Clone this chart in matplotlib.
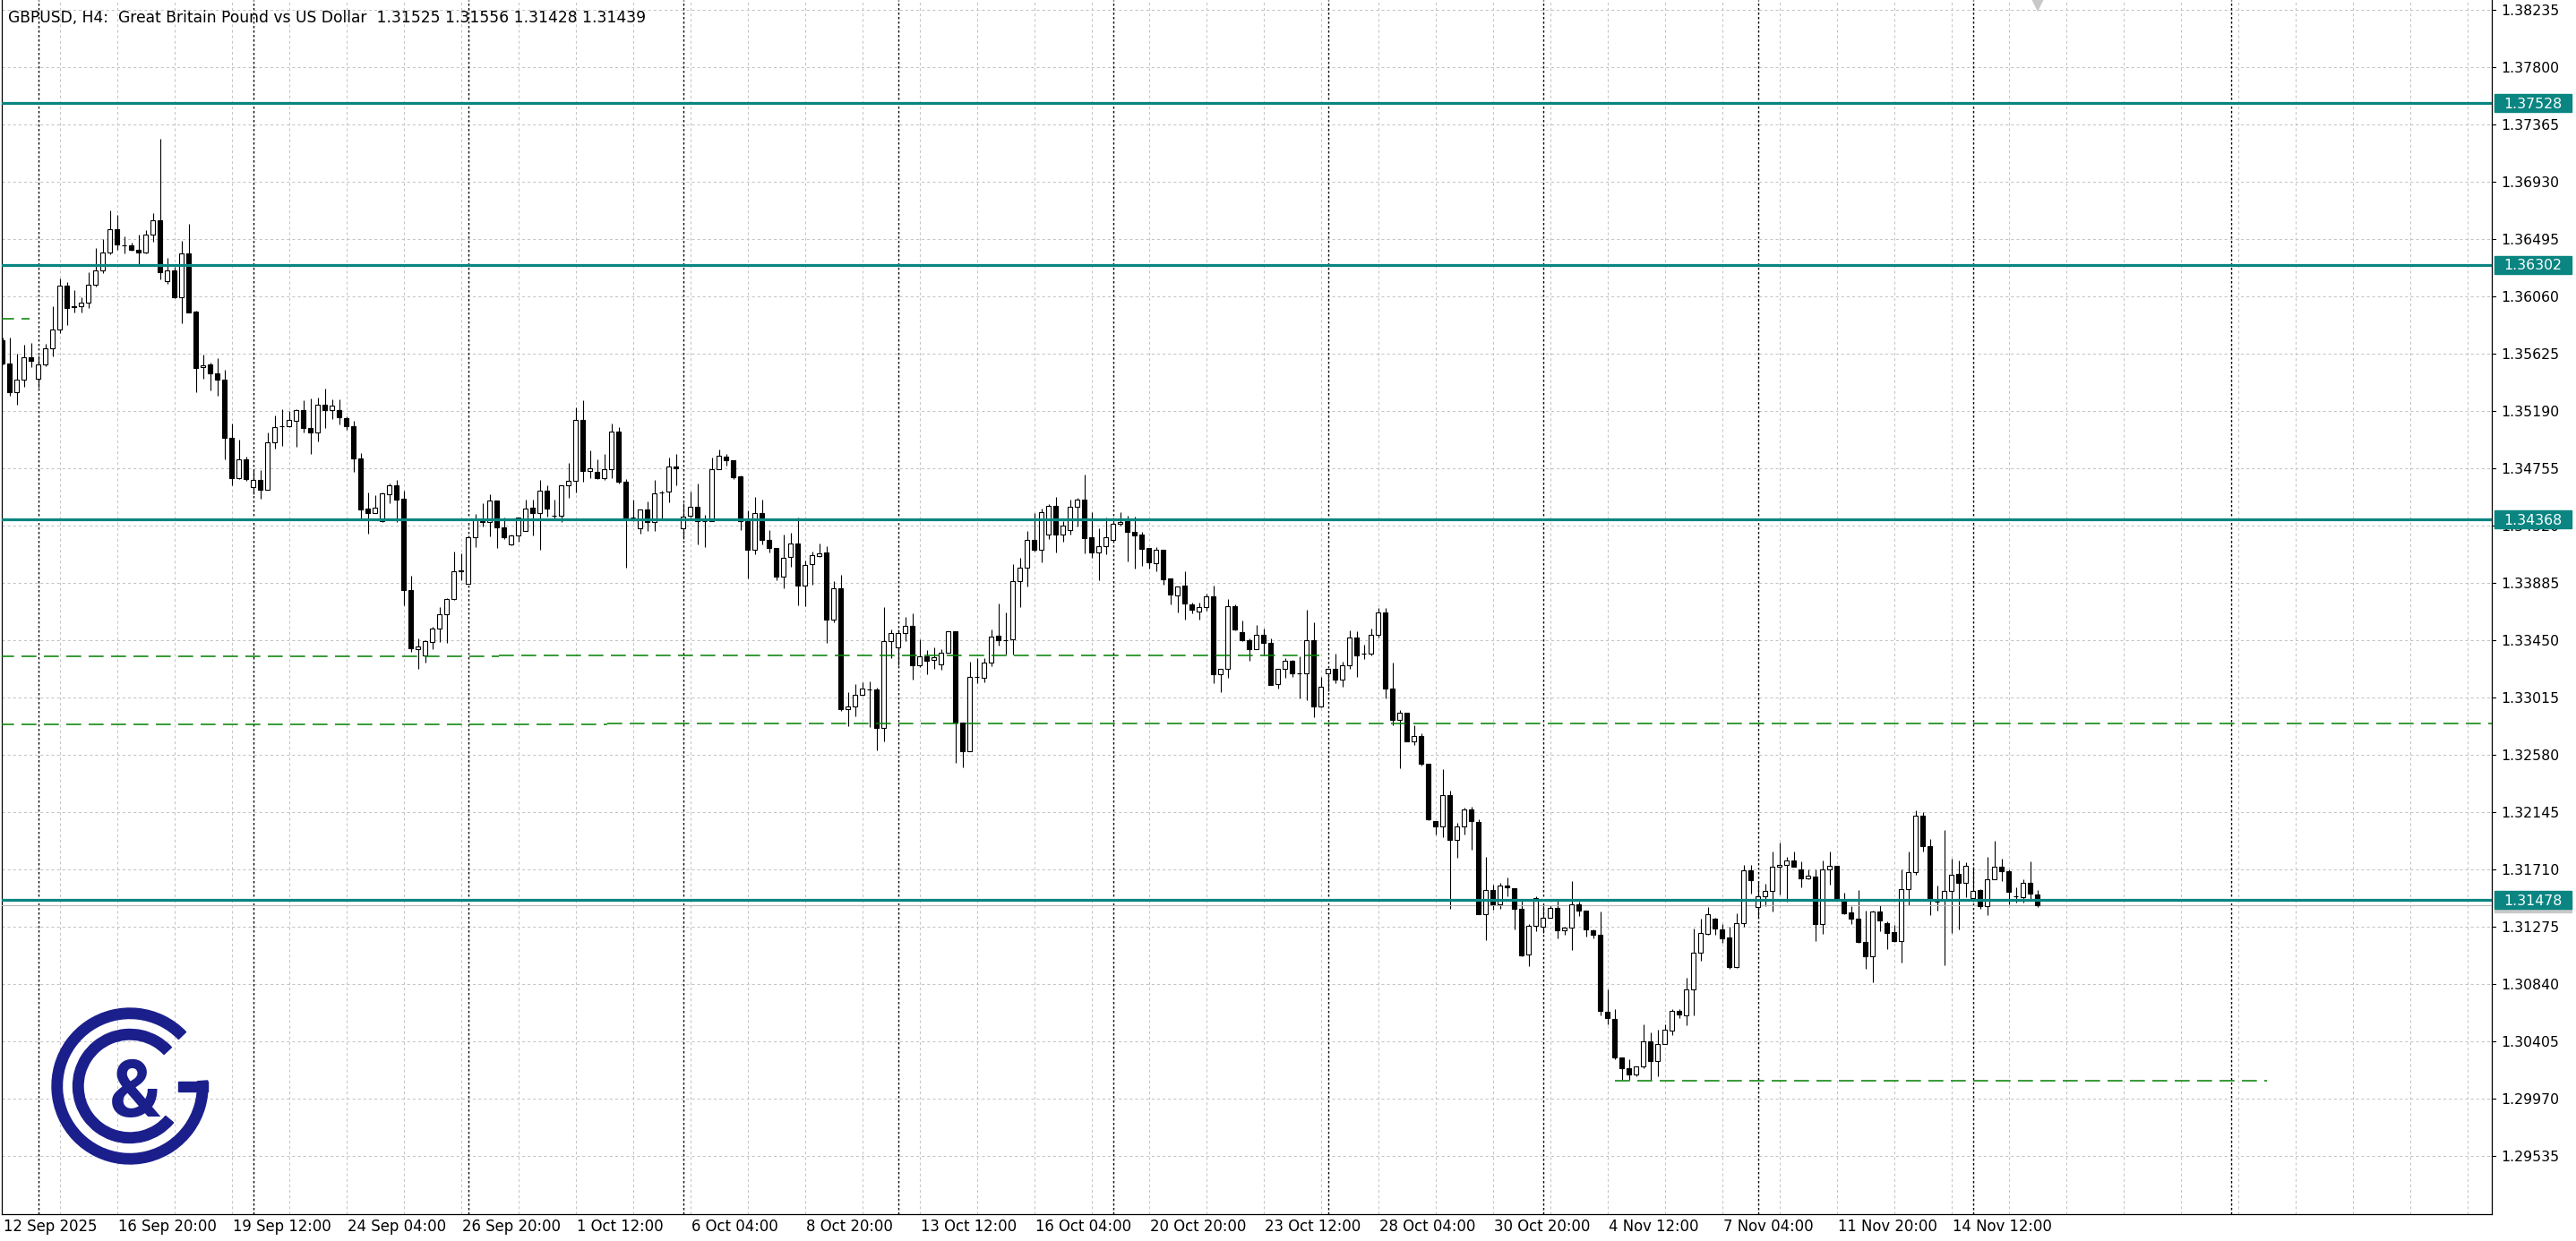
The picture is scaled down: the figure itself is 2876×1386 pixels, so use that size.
#!/usr/bin/env python3
"""GBPUSD H4 candlestick chart drawn in the MetaTrader terminal style."""

import matplotlib
matplotlib.use("Agg")
import matplotlib.pyplot as plt
import matplotlib.transforms as mtransforms
from matplotlib.patches import Rectangle, Wedge

plt.rcParams["lines.scale_dashes"] = False
plt.rcParams["font.family"] = ["DejaVu Sans"]

TITLE = "GBPUSD, H4:  Great Britain Pound vs US Dollar  1.31525 1.31556 1.31428 1.31439"

# H4 bars, oldest first (12 Sep 2025 04:00 ... 18 Nov 2025 12:00)
opens = [
    1.35729, 1.35555, 1.35333, 1.35428, 1.35598, 1.35439, 1.35548, 1.35666, 1.35813, 1.36142,
    1.35986, 1.35986, 1.36013, 1.36149, 1.36257, 1.36398, 1.36575, 1.36448, 1.36448, 1.36414,
    1.36398, 1.36534, 1.36643, 1.36176, 1.36262, 1.36058, 1.36391, 1.35945, 1.35523, 1.35543,
    1.35480, 1.35433, 1.34986, 1.34680, 1.34823, 1.34612, 1.34671, 1.34596, 1.34952, 1.35077,
    1.35079, 1.35118, 1.35197, 1.35065, 1.35027, 1.35242, 1.35202, 1.35197, 1.35140, 1.35079,
    1.34829, 1.34449, 1.34419, 1.34358, 1.34558, 1.34625, 1.34523, 1.33830, 1.33384, 1.33334,
    1.33440, 1.33538, 1.33649, 1.33762, 1.33984, 1.33878, 1.34233, 1.34358, 1.34347, 1.34510,
    1.34306, 1.34181, 1.34245, 1.34283, 1.34456, 1.34415, 1.34585, 1.34399, 1.34399, 1.34625,
    1.34664, 1.35122, 1.34736, 1.34727, 1.34682, 1.34748, 1.35038, 1.34653, 1.34385, 1.34301,
    1.34442, 1.34347, 1.34573, 1.34578, 1.34773, 1.34301, 1.34399, 1.34465, 1.34354, 1.34354,
    1.34748, 1.34845, 1.34816, 1.34693, 1.34358, 1.34136, 1.34419, 1.34211, 1.34150, 1.33932,
    1.34082, 1.34184, 1.33864, 1.34030, 1.34093, 1.34120, 1.33610, 1.33844, 1.32930, 1.32946,
    1.33039, 1.33077, 1.33077, 1.32783, 1.33445, 1.33399, 1.33504, 1.33558, 1.33259, 1.33327,
    1.33300, 1.33266, 1.33354, 1.33520, 1.32828, 1.32606, 1.33173, 1.33168, 1.33282, 1.33486,
    1.33452, 1.33456, 1.33898, 1.34000, 1.34211, 1.34137, 1.34257, 1.34472, 1.34257, 1.34291,
    1.34465, 1.34517, 1.34234, 1.34116, 1.34166, 1.34211, 1.34334, 1.34370, 1.34273, 1.34252,
    1.34150, 1.34035, 1.34137, 1.33922, 1.33792, 1.33865, 1.33724, 1.33668, 1.33706, 1.33786,
    1.33196, 1.33237, 1.33709, 1.33514, 1.33452, 1.33384, 1.33491, 1.33430, 1.33117, 1.33237,
    1.33294, 1.33203, 1.33199, 1.33452, 1.32947, 1.33199, 1.33233, 1.33151, 1.33260, 1.33471,
    1.33350, 1.33350, 1.33491, 1.33666, 1.33082, 1.32849, 1.32899, 1.32685, 1.32722, 1.32511,
    1.32082, 1.32037, 1.32277, 1.31939, 1.32037, 1.32167, 1.32074, 1.31375, 1.31553, 1.31449,
    1.31589, 1.31567, 1.31412, 1.31065, 1.31285, 1.31279, 1.31347, 1.31418, 1.31252, 1.31271,
    1.31446, 1.31398, 1.31252, 1.31215, 1.30632, 1.30576, 1.30285, 1.30200, 1.30158, 1.30214,
    1.30406, 1.30257, 1.30389, 1.30491, 1.30637, 1.30604, 1.30801, 1.31082, 1.31226, 1.31341,
    1.31255, 1.31194, 1.30974, 1.31307, 1.31704, 1.31425, 1.31505, 1.31552, 1.31731, 1.31749,
    1.31783, 1.31715, 1.31647, 1.31658, 1.31296, 1.31710, 1.31738, 1.31472, 1.31386, 1.31337,
    1.31160, 1.31051, 1.31391, 1.31307, 1.31239, 1.31171, 1.31563, 1.31692, 1.32118, 1.31892,
    1.31470, 1.31482, 1.31550, 1.31676, 1.31608, 1.31493, 1.31556, 1.31432, 1.31640, 1.31731,
    1.31697, 1.31511, 1.31504, 1.31608, 1.31525,
]
highs = [
    1.35748, 1.35748, 1.35625, 1.35696, 1.35707, 1.35612, 1.35700, 1.35990, 1.36199, 1.36171,
    1.36110, 1.36054, 1.36246, 1.36432, 1.36500, 1.36715, 1.36681, 1.36516, 1.36473, 1.36532,
    1.36563, 1.36693, 1.37259, 1.36353, 1.36285, 1.36482, 1.36613, 1.35952, 1.35623, 1.35559,
    1.35594, 1.35507, 1.35095, 1.34977, 1.34846, 1.34744, 1.34744, 1.35027, 1.35158, 1.35204,
    1.35190, 1.35208, 1.35272, 1.35288, 1.35294, 1.35360, 1.35281, 1.35281, 1.35152, 1.35118,
    1.34872, 1.34573, 1.34551, 1.34573, 1.34641, 1.34668, 1.34585, 1.33939, 1.33468, 1.33452,
    1.33554, 1.33701, 1.33769, 1.34125, 1.34109, 1.34245, 1.34408, 1.34494, 1.34562, 1.34514,
    1.34381, 1.34252, 1.34381, 1.34517, 1.34517, 1.34671, 1.34630, 1.34517, 1.34630, 1.34800,
    1.35219, 1.35271, 1.34891, 1.34827, 1.34868, 1.35094, 1.35072, 1.34675, 1.34517, 1.34442,
    1.34505, 1.34671, 1.34585, 1.34841, 1.34863, 1.34494, 1.34580, 1.34641, 1.34403, 1.34838,
    1.34900, 1.34868, 1.34816, 1.34705, 1.34437, 1.34539, 1.34517, 1.34290, 1.34154, 1.34256,
    1.34267, 1.34381, 1.34057, 1.34125, 1.34184, 1.34165, 1.33900, 1.33946, 1.33055, 1.33116,
    1.33134, 1.33139, 1.33089, 1.33701, 1.33536, 1.33536, 1.33626, 1.33656, 1.33456, 1.33377,
    1.33395, 1.33384, 1.33520, 1.33520, 1.32828, 1.33286, 1.33315, 1.33315, 1.33536, 1.33730,
    1.33662, 1.34029, 1.34075, 1.34279, 1.34415, 1.34450, 1.34488, 1.34540, 1.34359, 1.34517,
    1.34533, 1.34710, 1.34427, 1.34302, 1.34381, 1.34381, 1.34427, 1.34397, 1.34388, 1.34275,
    1.34155, 1.34159, 1.34137, 1.33922, 1.33860, 1.33978, 1.33740, 1.33740, 1.33804, 1.33865,
    1.33233, 1.33765, 1.33724, 1.33600, 1.33464, 1.33566, 1.33543, 1.33468, 1.33237, 1.33316,
    1.33305, 1.33332, 1.33684, 1.33588, 1.33174, 1.33237, 1.33351, 1.33287, 1.33527, 1.33520,
    1.33418, 1.33543, 1.33694, 1.33694, 1.33285, 1.32919, 1.32899, 1.32806, 1.32744, 1.32511,
    1.32082, 1.32474, 1.32311, 1.32068, 1.32181, 1.32187, 1.32094, 1.31806, 1.31595, 1.31609,
    1.31651, 1.31567, 1.31474, 1.31299, 1.31510, 1.31440, 1.31440, 1.31474, 1.31280, 1.31623,
    1.31468, 1.31398, 1.31257, 1.31392, 1.30801, 1.30652, 1.30285, 1.30271, 1.30220, 1.30539,
    1.30474, 1.30496, 1.30539, 1.30652, 1.30652, 1.30891, 1.31262, 1.31341, 1.31426, 1.31347,
    1.31300, 1.31278, 1.31380, 1.31749, 1.31749, 1.31617, 1.31606, 1.31846, 1.31919, 1.31806,
    1.31846, 1.31772, 1.31715, 1.31715, 1.31783, 1.31846, 1.31742, 1.31534, 1.31436, 1.31556,
    1.31398, 1.31398, 1.31438, 1.31318, 1.31291, 1.31710, 1.31846, 1.32161, 1.32145, 1.31942,
    1.31590, 1.32010, 1.31794, 1.31783, 1.31765, 1.31733, 1.31563, 1.31806, 1.31930, 1.31794,
    1.31715, 1.31574, 1.31640, 1.31772, 1.31556,
]
lows = [
    1.35548, 1.35310, 1.35242, 1.35378, 1.35526, 1.35372, 1.35530, 1.35609, 1.35786, 1.35847,
    1.35940, 1.35940, 1.35977, 1.36137, 1.36239, 1.36382, 1.36414, 1.36391, 1.36409, 1.36307,
    1.36387, 1.36477, 1.36194, 1.36160, 1.36051, 1.35861, 1.35943, 1.35337, 1.35439, 1.35351,
    1.35310, 1.34828, 1.34630, 1.34676, 1.34660, 1.34562, 1.34528, 1.34592, 1.34907, 1.34925,
    1.35072, 1.34920, 1.35031, 1.34868, 1.34964, 1.35061, 1.35134, 1.35088, 1.35050, 1.34732,
    1.34376, 1.34263, 1.34419, 1.34351, 1.34494, 1.34347, 1.33719, 1.33361, 1.33236, 1.33282,
    1.33384, 1.33440, 1.33434, 1.33758, 1.33909, 1.33878, 1.34161, 1.34313, 1.34240, 1.34154,
    1.34222, 1.34170, 1.34200, 1.34283, 1.34245, 1.34136, 1.34392, 1.34369, 1.34351, 1.34535,
    1.34573, 1.34653, 1.34682, 1.34675, 1.34668, 1.34682, 1.34641, 1.34002, 1.34358, 1.34263,
    1.34283, 1.34283, 1.34369, 1.34501, 1.34630, 1.34222, 1.34381, 1.34181, 1.34161, 1.34354,
    1.34748, 1.34777, 1.34675, 1.34290, 1.33923, 1.34104, 1.34177, 1.34116, 1.33905, 1.33844,
    1.34007, 1.33719, 1.33708, 1.33871, 1.34082, 1.33429, 1.33588, 1.32912, 1.32799, 1.32874,
    1.33032, 1.32790, 1.32613, 1.32681, 1.33316, 1.33259, 1.33445, 1.33150, 1.33248, 1.33191,
    1.33236, 1.33225, 1.33354, 1.32523, 1.32484, 1.32606, 1.33123, 1.33134, 1.33252, 1.33413,
    1.33343, 1.33343, 1.33701, 1.33860, 1.34125, 1.34042, 1.34218, 1.34116, 1.34200, 1.34257,
    1.34314, 1.34110, 1.34080, 1.33910, 1.34103, 1.34211, 1.34320, 1.34053, 1.33996, 1.34019,
    1.33996, 1.33974, 1.33876, 1.33724, 1.33661, 1.33611, 1.33654, 1.33611, 1.33679, 1.33128,
    1.33056, 1.33165, 1.33527, 1.33446, 1.33294, 1.33384, 1.33339, 1.33113, 1.33083, 1.33165,
    1.33174, 1.33011, 1.33000, 1.32870, 1.32943, 1.33063, 1.33124, 1.33101, 1.33233, 1.33176,
    1.33310, 1.33339, 1.33475, 1.33012, 1.32806, 1.32482, 1.32685, 1.32660, 1.32502, 1.32088,
    1.31976, 1.31956, 1.31412, 1.31798, 1.31976, 1.31863, 1.31370, 1.31173, 1.31404, 1.31412,
    1.31511, 1.31257, 1.31054, 1.30975, 1.31243, 1.31229, 1.31342, 1.31187, 1.31215, 1.31102,
    1.31356, 1.31201, 1.31187, 1.30604, 1.30539, 1.30271, 1.30116, 1.30116, 1.30144, 1.30200,
    1.30116, 1.30144, 1.30384, 1.30454, 1.30587, 1.30530, 1.30604, 1.31018, 1.31215, 1.31215,
    1.31155, 1.30956, 1.30963, 1.31278, 1.31529, 1.31352, 1.31432, 1.31393, 1.31522, 1.31466,
    1.31731, 1.31579, 1.31640, 1.31167, 1.31221, 1.31595, 1.31484, 1.31375, 1.31296, 1.31155,
    1.30960, 1.30854, 1.31246, 1.31110, 1.31160, 1.31008, 1.31438, 1.31670, 1.31851, 1.31364,
    1.31398, 1.30985, 1.31228, 1.31255, 1.31504, 1.31466, 1.31416, 1.31364, 1.31636, 1.31624,
    1.31450, 1.31459, 1.31459, 1.31488, 1.31428,
]
closes = [
    1.35555, 1.35333, 1.35428, 1.35598, 1.35571, 1.35548, 1.35666, 1.35813, 1.36142, 1.35977,
    1.35979, 1.36013, 1.36149, 1.36257, 1.36398, 1.36575, 1.36455, 1.36448, 1.36414, 1.36398,
    1.36534, 1.36643, 1.36244, 1.36262, 1.36058, 1.36391, 1.35943, 1.35521, 1.35541, 1.35480,
    1.35433, 1.34986, 1.34680, 1.34823, 1.34676, 1.34671, 1.34596, 1.34952, 1.35072, 1.35077,
    1.35122, 1.35197, 1.35065, 1.35031, 1.35238, 1.35202, 1.35231, 1.35145, 1.35079, 1.34830,
    1.34444, 1.34419, 1.34456, 1.34567, 1.34625, 1.34521, 1.33830, 1.33388, 1.33402, 1.33447,
    1.33538, 1.33649, 1.33762, 1.33973, 1.33977, 1.34233, 1.34369, 1.34347, 1.34510, 1.34306,
    1.34233, 1.34245, 1.34381, 1.34449, 1.34415, 1.34585, 1.34449, 1.34399, 1.34625, 1.34664,
    1.35122, 1.34736, 1.34759, 1.34682, 1.34748, 1.35038, 1.34653, 1.34385, 1.34385, 1.34442,
    1.34347, 1.34569, 1.34573, 1.34773, 1.34759, 1.34392, 1.34465, 1.34354, 1.34354, 1.34748,
    1.34850, 1.34816, 1.34691, 1.34358, 1.34136, 1.34419, 1.34211, 1.34150, 1.33932, 1.34075,
    1.34184, 1.33864, 1.34023, 1.34098, 1.34113, 1.33610, 1.33844, 1.32930, 1.32946, 1.33039,
    1.33082, 1.33077, 1.32783, 1.33445, 1.33504, 1.33504, 1.33558, 1.33259, 1.33332, 1.33293,
    1.33320, 1.33354, 1.33520, 1.32828, 1.32606, 1.33173, 1.33173, 1.33282, 1.33479, 1.33452,
    1.33452, 1.33898, 1.34000, 1.34211, 1.34136, 1.34427, 1.34472, 1.34257, 1.34320, 1.34465,
    1.34517, 1.34230, 1.34116, 1.34166, 1.34234, 1.34336, 1.34348, 1.34273, 1.34250, 1.34148,
    1.34042, 1.34137, 1.33917, 1.33797, 1.33860, 1.33731, 1.33686, 1.33706, 1.33786, 1.33196,
    1.33233, 1.33709, 1.33532, 1.33452, 1.33384, 1.33491, 1.33430, 1.33113, 1.33237, 1.33294,
    1.33203, 1.33203, 1.33452, 1.32947, 1.33101, 1.33233, 1.33151, 1.33260, 1.33471, 1.33339,
    1.33350, 1.33491, 1.33666, 1.33082, 1.32849, 1.32899, 1.32685, 1.32722, 1.32511, 1.32094,
    1.32037, 1.32277, 1.31939, 1.32037, 1.32167, 1.32079, 1.31375, 1.31553, 1.31449, 1.31589,
    1.31575, 1.31412, 1.31060, 1.31285, 1.31496, 1.31347, 1.31418, 1.31252, 1.31271, 1.31446,
    1.31398, 1.31257, 1.31215, 1.30637, 1.30581, 1.30285, 1.30200, 1.30158, 1.30214, 1.30406,
    1.30257, 1.30389, 1.30496, 1.30637, 1.30609, 1.30801, 1.31082, 1.31229, 1.31370, 1.31262,
    1.31189, 1.30974, 1.31307, 1.31704, 1.31629, 1.31505, 1.31550, 1.31731, 1.31749, 1.31783,
    1.31731, 1.31647, 1.31663, 1.31296, 1.31710, 1.31738, 1.31484, 1.31382, 1.31337, 1.31160,
    1.31051, 1.31391, 1.31323, 1.31232, 1.31171, 1.31563, 1.31692, 1.32118, 1.31892, 1.31477,
    1.31470, 1.31550, 1.31670, 1.31608, 1.31738, 1.31552, 1.31432, 1.31640, 1.31731, 1.31697,
    1.31545, 1.31511, 1.31608, 1.31527, 1.31439,
]

# right price scale
price_labels = [
    "1.38235", "1.37800", "1.37365", "1.36930", "1.36495", "1.36060", "1.35625",
    "1.35190", "1.34755", "1.34320", "1.33885", "1.33450", "1.33015", "1.32580",
    "1.32145", "1.31710", "1.31275", "1.30840", "1.30405", "1.29970", "1.29535",
]

# time scale (label text and the bar it belongs to)
time_labels = [
    "12 Sep 2025", "16 Sep 20:00", "19 Sep 12:00", "24 Sep 04:00", "26 Sep 20:00",
    "1 Oct 12:00", "6 Oct 04:00", "8 Oct 20:00", "13 Oct 12:00", "16 Oct 04:00",
    "20 Oct 20:00", "23 Oct 12:00", "28 Oct 04:00", "30 Oct 20:00", "4 Nov 12:00",
    "7 Nov 04:00", "11 Nov 20:00", "14 Nov 12:00",
]
time_label_bars = [0, 16, 32, 48, 64, 80, 96, 112, 128, 144, 160, 176, 192, 208, 224, 240, 256, 272]

# week separators (bar index of each Monday 00:00)
week_start_bars = [5, 35, 65, 95, 125, 155, 185, 215, 245, 275, 311]

# horizontal levels
levels = [1.37528, 1.36302, 1.34368, 1.31478]
bid_price = 1.31439

# dashed trend levels: price, first bar, last bar
dashed_levels = [1.35890, 1.33332, 1.33339, 1.32811, 1.32818, 1.30111]
dashed_from = [-0.5, -0.5, 69.3, -0.5, 84.4, 225.0]
dashed_to = [3.8, 69.3, 183.8, 84.4, 348.0, 316.0]

# layout, in pixels of the 2876 x 1386 picture
FIG_W, FIG_H = 2876, 1386
PLOT_LEFT, PLOT_RIGHT, PLOT_TOP, PLOT_BOTTOM = 2, 2782, 0, 1356
BAR_STEP_PX = 8.0
BAR0_PX = 2.7
TOP_TICK_PX = 11.3
TICK_STEP = 0.00435
TICK_STEP_PX = 64.0
PRICE_PER_PX = TICK_STEP / TICK_STEP_PX

TEAL = "#0a8581"
GREEN = "#008000"
GRID = "#c4c4c4"
LOGO_BLUE = "#1b1f8c"


def setup_axes(fig):
    w = PLOT_RIGHT - PLOT_LEFT
    h = PLOT_BOTTOM - PLOT_TOP
    ax = fig.add_axes([PLOT_LEFT / FIG_W, (FIG_H - PLOT_BOTTOM) / FIG_H, w / FIG_W, h / FIG_H])
    top_price = float(price_labels[0])
    ax.set_xlim((PLOT_LEFT - BAR0_PX) / BAR_STEP_PX, (PLOT_RIGHT - BAR0_PX) / BAR_STEP_PX)
    ax.set_ylim(
        top_price - (PLOT_BOTTOM - TOP_TICK_PX) * PRICE_PER_PX,
        top_price + (TOP_TICK_PX - PLOT_TOP) * PRICE_PER_PX,
    )
    ax.set_xticks([])
    ax.set_yticks([])
    for side in ("left", "right", "bottom"):
        ax.spines[side].set_color("black")
        ax.spines[side].set_linewidth(0.9)
    ax.spines["top"].set_visible(False)
    return ax


def draw_grid(ax):
    n_px = PLOT_RIGHT - PLOT_LEFT
    for label in price_labels:
        ax.axhline(float(label), color=GRID, linewidth=0.75, linestyle=(0, (2.2, 2.2)), zorder=1)
    n_grid = int((n_px - BAR0_PX) // (8 * BAR_STEP_PX))
    for k in range(1, n_grid + 1):
        ax.axvline(8 * k, color=GRID, linewidth=0.75, linestyle=(0, (2.2, 2.2)), zorder=1)
    for bar in week_start_bars:
        ax.axvline(bar, color="black", linewidth=1.0, linestyle=(0, (1.8, 1.8)), zorder=1.5)


def draw_candles(ax):
    bars = list(range(len(opens)))
    ax.vlines(bars, lows, highs, color="black", linewidth=0.8, zorder=3)
    for i, (o, c) in enumerate(zip(opens, closes)):
        lo, hi = min(o, c), max(o, c)
        if hi - lo < 0.00003:
            ax.hlines(o, i - 0.3, i + 0.3, color="black", linewidth=0.8, zorder=4)
            continue
        fill = "white" if c > o else "black"
        ax.add_patch(Rectangle((i - 0.28, lo), 0.56, hi - lo, facecolor=fill,
                               edgecolor="black", linewidth=0.8, zorder=4))


def draw_levels(ax):
    trans = mtransforms.blended_transform_factory(ax.transAxes, ax.transData)
    w = PLOT_RIGHT - PLOT_LEFT

    # bid line and its grey tag (mostly hidden below the teal tag)
    ax.axhline(bid_price, color="#b8b8b8", linewidth=0.8, zorder=3.5)
    ax.add_patch(Rectangle((1 + 3 / w, bid_price - 8 * PRICE_PER_PX), 86 / w, 16 * PRICE_PER_PX,
                           transform=trans, clip_on=False, color="#c8c8c8", zorder=6))

    for p, a, b in zip(dashed_levels, dashed_from, dashed_to):
        ax.hlines(p, a, b, color=GREEN, linewidth=1.1, linestyle=(0, (12.0, 6.0)), zorder=5)

    for level in levels:
        ax.axhline(level, color=TEAL, linewidth=2.3, zorder=5)
        ax.add_patch(Rectangle((1 + 3 / w, level - 10 * PRICE_PER_PX), 86 / w, 20 * PRICE_PER_PX,
                               transform=trans, clip_on=False, color=TEAL, zorder=7))
        ax.text(1 + 13 / w, level - 5.5 * PRICE_PER_PX, f"{level:.5f}", transform=trans,
                fontsize=11.3, color="white", va="baseline", ha="left", zorder=8, clip_on=False)


def draw_price_scale(ax):
    trans = mtransforms.blended_transform_factory(ax.transAxes, ax.transData)
    w = PLOT_RIGHT - PLOT_LEFT
    for label in price_labels:
        p = float(label)
        ax.plot([1, 1 + 4 / w], [p, p], color="black", linewidth=0.8, transform=trans, clip_on=False)
        ax.text(1 + 10 / w, p - 5.5 * PRICE_PER_PX, label, transform=trans, fontsize=11.3,
                color="black", va="baseline", ha="left", zorder=2, clip_on=False)


def draw_time_scale(ax):
    trans = mtransforms.blended_transform_factory(ax.transData, ax.transAxes)
    h = PLOT_BOTTOM - PLOT_TOP
    for label, bar in zip(time_labels, time_label_bars):
        ax.text(bar + 0.15, -19 / h, label, transform=trans, fontsize=11.9, color="black",
                va="baseline", ha="left", clip_on=False)
    # chart shift marker above the last bar
    ax.plot([len(opens) - 1], [1 - 5 / h], marker="v", markersize=11, color="#c8c8c8",
            markeredgewidth=0, transform=trans, clip_on=False, zorder=6)


def draw_logo(fig):
    cx, cy, half = 145, 1213, 100
    lax = fig.add_axes([(cx - half) / FIG_W, (FIG_H - cy - half) / FIG_H,
                        2 * half / FIG_W, 2 * half / FIG_H])
    lax.set_xlim(-half, half)
    lax.set_ylim(-half, half)
    lax.axis("off")
    lax.patch.set_alpha(0)
    lax.add_patch(Wedge((0, 0), 87, 44, 364, width=11.5, color=LOGO_BLUE))
    lax.add_patch(Rectangle((54, -5.5), 33, 11, color=LOGO_BLUE))
    lax.add_patch(Wedge((0, 0), 63.5, 43, 320, width=11.5, color=LOGO_BLUE))
    lax.text(6, -1, "&", fontsize=64, fontweight="bold", family=["Roboto", "DejaVu Sans"],
             color=LOGO_BLUE, ha="center", va="center_baseline")


def main():
    fig = plt.figure(figsize=(FIG_W / 100, FIG_H / 100), dpi=100)
    fig.patch.set_facecolor("white")
    ax = setup_axes(fig)
    draw_grid(ax)
    draw_candles(ax)
    draw_levels(ax)
    draw_price_scale(ax)
    draw_time_scale(ax)
    fig.text(8.6 / FIG_W, 1 - 25 / FIG_H, TITLE, fontsize=12.3, color="black", va="baseline", ha="left")
    draw_logo(fig)
    fig.savefig("out.png", dpi=100, facecolor="white")
    plt.close(fig)


if __name__ == "__main__":
    main()
